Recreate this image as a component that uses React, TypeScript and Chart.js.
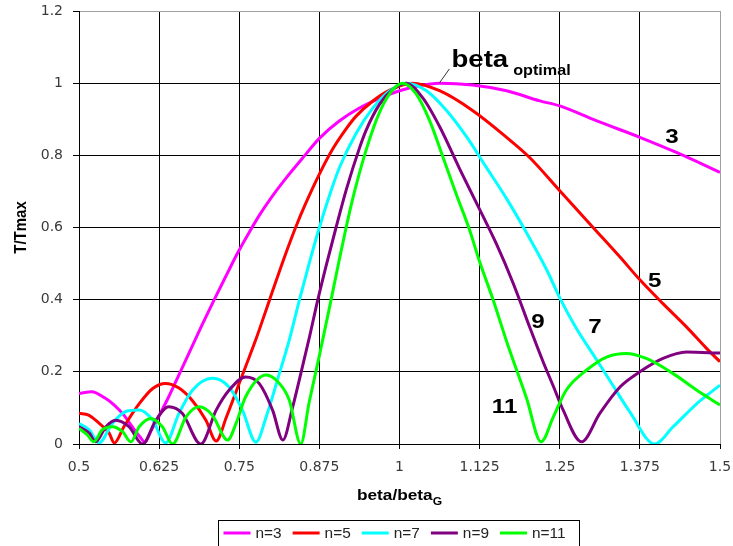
import React, { useEffect, useRef } from "react";
import { Chart, registerables } from "chart.js";

Chart.register(...registerables);

// ---- data ----
const n3X = [0.5, 0.52, 0.54, 0.555, 0.57, 0.583, 0.595, 0.603, 0.612, 0.624, 0.64, 0.655, 0.675, 0.692, 0.711, 0.73, 0.747, 0.765, 0.781, 0.8, 0.823, 0.85, 0.875, 0.906, 0.9375, 0.969, 1.0, 1.03, 1.0625, 1.114, 1.167, 1.219, 1.25, 1.307, 1.375, 1.432, 1.5];
const n3Y = [0.14, 0.145, 0.128, 0.108, 0.08, 0.048, 0.02, 0.005, 0.035, 0.075, 0.131, 0.188, 0.265, 0.33, 0.4, 0.468, 0.528, 0.585, 0.633, 0.683, 0.737, 0.795, 0.847, 0.895, 0.931, 0.958, 0.979, 0.993, 1.0, 0.995, 0.979, 0.951, 0.937, 0.896, 0.85, 0.808, 0.753];

const n5X = [0.5, 0.515, 0.531, 0.547, 0.555, 0.57, 0.594, 0.615, 0.635, 0.656, 0.677, 0.698, 0.714, 0.73, 0.745, 0.76, 0.776, 0.797, 0.823, 0.839, 0.854, 0.875, 0.896, 0.917, 0.932, 0.958, 0.984, 1.02, 1.0625, 1.115, 1.167, 1.203, 1.25, 1.302, 1.344, 1.375, 1.411, 1.448, 1.479, 1.5];
const n5Y = [0.085, 0.08, 0.058, 0.03, 0.003, 0.048, 0.112, 0.154, 0.168, 0.155, 0.12, 0.066, 0.008, 0.075, 0.145, 0.215, 0.29, 0.398, 0.53, 0.605, 0.668, 0.748, 0.818, 0.874, 0.908, 0.95, 0.98, 1.0, 0.979, 0.923, 0.85, 0.794, 0.702, 0.6, 0.518, 0.455, 0.389, 0.324, 0.265, 0.228];

const n7X = [0.5, 0.516, 0.531, 0.552, 0.573, 0.594, 0.615, 0.635, 0.656, 0.677, 0.708, 0.734, 0.755, 0.776, 0.792, 0.8125, 0.828, 0.844, 0.859, 0.875, 0.891, 0.906, 0.932, 0.958, 0.984, 1.01, 1.042, 1.073, 1.104, 1.135, 1.167, 1.198, 1.229, 1.25, 1.276, 1.307, 1.333, 1.359, 1.398, 1.427, 1.464, 1.5];
const n7Y = [0.057, 0.039, 0.003, 0.057, 0.09, 0.094, 0.066, 0.003, 0.085, 0.149, 0.182, 0.158, 0.094, 0.005, 0.075, 0.195, 0.288, 0.4, 0.5, 0.6, 0.69, 0.765, 0.86, 0.93, 0.978, 1.0, 0.979, 0.925, 0.853, 0.768, 0.68, 0.586, 0.485, 0.405, 0.32, 0.235, 0.162, 0.09, 0.0, 0.048, 0.112, 0.163];

const n9X = [0.5, 0.516, 0.526, 0.542, 0.557, 0.578, 0.599, 0.62, 0.64, 0.661, 0.69, 0.714, 0.734, 0.76, 0.781, 0.802, 0.818, 0.833, 0.844, 0.86, 0.87, 0.885, 0.901, 0.917, 0.9375, 0.948, 0.969, 0.99, 1.01, 1.036, 1.0625, 1.094, 1.125, 1.151, 1.177, 1.205, 1.224, 1.24, 1.255, 1.284, 1.3125, 1.344, 1.375, 1.411, 1.448, 1.5];
const n9Y = [0.048, 0.03, 0.006, 0.048, 0.066, 0.048, 0.0, 0.066, 0.103, 0.085, 0.0, 0.094, 0.149, 0.186, 0.168, 0.094, 0.011, 0.1, 0.18, 0.3, 0.38, 0.49, 0.6, 0.705, 0.82, 0.87, 0.942, 0.983, 1.0, 0.96, 0.88, 0.762, 0.65, 0.555, 0.447, 0.315, 0.228, 0.16, 0.095, 0.006, 0.085, 0.158, 0.2, 0.237, 0.255, 0.252];

const n11X = [0.5, 0.513, 0.523, 0.536, 0.552, 0.568, 0.581, 0.594, 0.612, 0.63, 0.646, 0.667, 0.6875, 0.708, 0.732, 0.745, 0.76, 0.792, 0.8125, 0.828, 0.846, 0.859, 0.875, 0.891, 0.906, 0.925, 0.948, 0.969, 0.99, 1.005, 1.026, 1.047, 1.068, 1.089, 1.109, 1.125, 1.146, 1.167, 1.198, 1.221, 1.24, 1.26, 1.292, 1.323, 1.354, 1.385, 1.427, 1.464, 1.5];
const n11Y = [0.043, 0.025, 0.006, 0.039, 0.048, 0.034, 0.006, 0.048, 0.071, 0.048, 0.0, 0.075, 0.103, 0.08, 0.011, 0.057, 0.131, 0.191, 0.168, 0.122, 0.0, 0.115, 0.245, 0.38, 0.51, 0.665, 0.815, 0.92, 0.983, 1.0, 0.97, 0.896, 0.794, 0.69, 0.595, 0.505, 0.4, 0.285, 0.128, 0.006, 0.075, 0.149, 0.205, 0.241, 0.251, 0.237, 0.195, 0.149, 0.108];

const seriesX = [n3X, n5X, n7X, n9X, n11X];
const seriesY = [n3Y, n5Y, n7Y, n9Y, n11Y];
const seriesNames = ["n=3", "n=5", "n=7", "n=9", "n=11"];
const seriesColors = ["#FF00FF", "#FF0000", "#00FFFF", "#800080", "#00FF00"];

const xMin = 0.5;
const xMax = 1.5;
const xStep = 0.125;
const yMin = 0;
const yMax = 1.2;
const yStep = 0.2;

const xTitle = "beta/beta";
const xTitleSub = "G";
const yTitle = "T/Tmax";

// curve tags (anchor in data units: centre x, baseline y)
const curveTags = ["3", "5", "7", "9", "11"];
const curveTagX = [1.425, 1.398, 1.305, 1.216, 1.164];
const curveTagY = [0.835, 0.434, 0.307, 0.321, 0.086];

const betaTag = "beta";
const betaTagSub = "optimal";
const betaTagX = 1.081;
const betaTagY = 1.045;

// ---- drawing helpers ----
const SANS = '"Liberation Sans", Arial, sans-serif';
const SX = 1.15;

function stretchedText(ctx: CanvasRenderingContext2D, text: string, x: number, y: number, font: string, align: CanvasTextAlign, sx: number) {
  ctx.save();
  ctx.font = font;
  ctx.textBaseline = "alphabetic";
  ctx.textAlign = align;
  ctx.translate(x, y);
  ctx.scale(sx, 1);
  ctx.fillText(text, 0, 0);
  ctx.restore();
}

function textWidth(ctx: CanvasRenderingContext2D, text: string, font: string, sx: number) {
  ctx.save();
  ctx.font = font;
  const w = ctx.measureText(text).width * sx;
  ctx.restore();
  return w;
}

const decorPlugin = {
  id: "decor",
  afterDraw(chart: any) {
    const { ctx, chartArea, scales } = chart;
    const xs = scales.x;
    const ys = scales.y;
    ctx.save();
    ctx.fillStyle = "#000";

    // curve tags
    const tagFont = `bold 21px ${SANS}`;
    curveTags.forEach((t, i) => {
      stretchedText(ctx, t, xs.getPixelForValue(curveTagX[i]), ys.getPixelForValue(curveTagY[i]), tagFont, "center", SX);
    });

    // beta optimal
    const bx = xs.getPixelForValue(betaTagX);
    const by = ys.getPixelForValue(betaTagY);
    const bigFont = `bold 24px ${SANS}`;
    stretchedText(ctx, betaTag, bx, by, bigFont, "left", SX);
    const bw = textWidth(ctx, betaTag, bigFont, SX);
    stretchedText(ctx, betaTagSub, bx + bw + 5, by + 8, `bold 15px ${SANS}`, "left", 1.08);
    ctx.strokeStyle = "#333";
    ctx.lineWidth = 1;
    ctx.beginPath();
    ctx.moveTo(bx - 2, by + 2);
    ctx.lineTo(bx - 12, by + 16);
    ctx.stroke();

    // x axis title
    const tFont = `bold 15px ${SANS}`;
    const subFont = `bold 10.5px ${SANS}`;
    const w1 = textWidth(ctx, xTitle, tFont, SX);
    const w2 = textWidth(ctx, xTitleSub, subFont, SX);
    const cx = (chartArea.left + chartArea.right) / 2;
    const x0 = cx - (w1 + w2) / 2;
    stretchedText(ctx, xTitle, x0, chartArea.bottom + 56, tFont, "left", SX);
    stretchedText(ctx, xTitleSub, x0 + w1, chartArea.bottom + 61, subFont, "left", SX);

    // y axis title
    ctx.save();
    ctx.translate(21, (chartArea.top + chartArea.bottom) / 2);
    ctx.rotate(-Math.PI / 2);
    ctx.scale(1, SX);
    ctx.font = tFont;
    ctx.textAlign = "center";
    ctx.textBaseline = "middle";
    ctx.fillText(yTitle, 0, 0);
    ctx.restore();

    // legend
    const legFont = `14px ${SANS}`;
    const legSX = 1.1;
    const lineLen = 27;
    const gapLT = 5;
    const gapTL = 11;
    const widths = seriesNames.map((n) => textWidth(ctx, n, legFont, legSX));
    const W = seriesNames.length * (lineLen + gapLT) + widths.reduce((a, b) => a + b, 0) + (seriesNames.length - 1) * gapTL;
    const boxW = W + 19;
    const boxLeft = Math.round(cx - 0.5 - boxW / 2) + 0.5;
    const boxTop = chartArea.bottom + 76.5;
    ctx.strokeStyle = "#000";
    ctx.lineWidth = 1;
    ctx.strokeRect(boxLeft, boxTop, Math.round(boxW), 40);
    const ly = chartArea.bottom + 89;
    let px = boxLeft + 5;
    seriesNames.forEach((n, i) => {
      ctx.strokeStyle = seriesColors[i];
      ctx.lineWidth = 3;
      ctx.beginPath();
      ctx.moveTo(px, ly);
      ctx.lineTo(px + lineLen, ly);
      ctx.stroke();
      px += lineLen + gapLT;
      ctx.fillStyle = "#222";
      stretchedText(ctx, n, px, ly + 5, legFont, "left", legSX);
      px += widths[i] + gapTL;
    });
    ctx.restore();
  },
};

function fmt(v: number) {
  return String(Number(Number(v).toFixed(3)));
}

export default function App() {
  const ref = useRef<HTMLCanvasElement | null>(null);

  useEffect(() => {
    document.body.style.margin = "0";
    document.body.style.overflow = "hidden";
    document.body.style.background = "#fff";
    const canvas = ref.current;
    if (!canvas) return;

    const datasets = seriesNames.map((name, i) => ({
      label: name,
      data: seriesX[i].map((x, j) => ({ x, y: seriesY[i][j] })),
      borderColor: seriesColors[i],
      backgroundColor: seriesColors[i],
      borderWidth: 3,
      pointRadius: 0,
      pointHoverRadius: 0,
      fill: false,
      cubicInterpolationMode: "monotone" as const,
      order: seriesNames.length - i,
    }));

    const tickFont = { family: '"DejaVu Sans", Verdana, sans-serif', size: 14 };

    const chart = new Chart(canvas, {
      type: "line",
      data: { datasets },
      plugins: [decorPlugin],
      options: {
        responsive: false,
        animation: false,
        devicePixelRatio: 1,
        events: [],
        layout: { padding: { left: 0, right: 13, top: 11, bottom: 0 } },
        plugins: {
          legend: { display: false },
          tooltip: { enabled: false },
          title: { display: false },
        },
        scales: {
          x: {
            type: "linear",
            min: xMin,
            max: xMax,
            ticks: {
              stepSize: xStep,
              callback: (v: any) => fmt(v),
              font: tickFont,
              color: "#3a3a3a",
              padding: 10,
              maxRotation: 0,
              autoSkip: false,
            },
            grid: {
              color: (c: any) => (c.tick && Math.abs(c.tick.value - xMax) < 1e-6 ? "#a0a0a0" : "#000"),
              lineWidth: 1,
              tickLength: 5,
              tickColor: "#000",
            },
            border: { color: "#000", width: 1 },
            afterFit: (s: any) => {
              s.height = 102;
              s.paddingLeft = 0;
              s.paddingRight = 0;
            },
          },
          y: {
            type: "linear",
            min: yMin,
            max: yMax,
            ticks: {
              stepSize: yStep,
              callback: (v: any) => fmt(v),
              font: tickFont,
              color: "#3a3a3a",
              padding: 10,
            },
            grid: {
              color: (c: any) => (c.tick && Math.abs(c.tick.value - yMax) < 1e-6 ? "#a0a0a0" : "#000"),
              lineWidth: 1,
              tickLength: 6,
              tickColor: "#000",
            },
            border: { color: "#000", width: 1 },
            afterFit: (s: any) => {
              s.width = 79;
              s.paddingTop = 0;
              s.paddingBottom = 0;
            },
          },
        },
      } as any,
    });

    return () => {
      chart.destroy();
    };
  }, []);

  return <canvas ref={ref} width={733} height={546} style={{ display: "block" }} />;
}
